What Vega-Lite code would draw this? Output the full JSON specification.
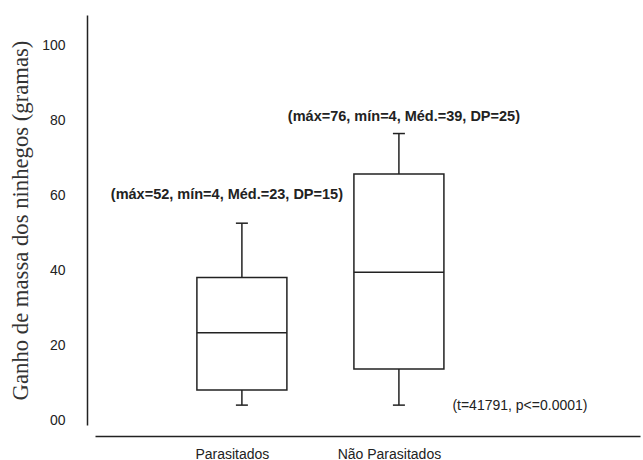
{
  "$schema": "https://vega.github.io/schema/vega-lite/v6.json",
  "width": 545,
  "height": 410,
  "autosize": {"type": "none"},
  "padding": {"left": 95, "top": 15, "right": 3, "bottom": 35},
  "background": "white",
  "config": {"view": {"stroke": null}, "font": "Liberation Sans"},
  "data": {"values": [
    {"grupo": "Parasitados", "min": 4, "q1": 8, "med": 23.3, "q3": 38, "max": 52.5, "label": "(máx=52, mín=4, Méd.=23, DP=15)", "labelY": 60},
    {"grupo": "Não Parasitados", "min": 4, "q1": 13.6, "med": 39.4, "q3": 65.6, "max": 76.4, "label": "(máx=76, mín=4, Méd.=39, DP=25)", "labelY": 80.8}
  ]},
  "encoding": {
    "x": {"field": "grupo", "type": "nominal", "sort": null,
      "scale": {"type": "point", "domain": ["Parasitados", "Não Parasitados", "_"], "padding": 0.7355, "align": 0.636},
      "axis": {"title": null, "domainColor": "#222", "domainWidth": 1.5, "ticks": false, "labelAngle": 0, "labelFontSize": 14, "labelColor": "#222", "labelPadding": 11, "offset": 11, "labelOffset": -10,
        "labelExpr": "datum.value == '_' ? '' : datum.label"}}
  },
  "layer": [
    {"mark": {"type": "rule", "color": "#222", "strokeWidth": 1.5},
     "encoding": {
       "y": {"field": "min", "type": "quantitative",
         "scale": {"domain": [-1.3, 108], "nice": false, "zero": false},
         "axis": {"title": "Ganho de massa dos ninhegos (gramas)", "titleFont": "Liberation Serif", "titleFontWeight": "normal", "titleFontSize": 22.7, "titleColor": "#333", "titlePadding": 9,
           "values": [0, 20, 40, 60, 80, 100], "labelExpr": "datum.value == 0 ? '00' : datum.label",
           "grid": false, "ticks": false, "domainColor": "#222", "domainWidth": 1.5, "labelFontSize": 14, "labelColor": "#222", "labelPadding": 22, "offset": 8}},
       "y2": {"field": "max"}
     }},
    {"mark": {"type": "bar", "width": 90, "fill": "white", "stroke": "#222", "strokeWidth": 1.5},
     "encoding": {"y": {"field": "q1", "type": "quantitative"}, "y2": {"field": "q3"}}},
    {"mark": {"type": "tick", "orient": "horizontal", "size": 90, "thickness": 1.5, "color": "#222", "opacity": 1},
     "encoding": {"y": {"field": "med", "type": "quantitative"}}},
    {"mark": {"type": "tick", "orient": "horizontal", "size": 12, "thickness": 1.5, "color": "#222", "opacity": 1},
     "encoding": {"y": {"field": "max", "type": "quantitative"}}},
    {"mark": {"type": "tick", "orient": "horizontal", "size": 12, "thickness": 1.5, "color": "#222", "opacity": 1},
     "encoding": {"y": {"field": "min", "type": "quantitative"}}},
    {"transform": [{"filter": "datum.grupo == 'Parasitados'"}],
     "mark": {"type": "text", "fontWeight": "bold", "fontSize": 14.5, "color": "#222", "dx": -15},
     "encoding": {"y": {"field": "labelY", "type": "quantitative"}, "text": {"field": "label"}}},
    {"transform": [{"filter": "datum.grupo == 'Não Parasitados'"}],
     "mark": {"type": "text", "fontWeight": "bold", "fontSize": 14.5, "color": "#222", "dx": 5},
     "encoding": {"y": {"field": "labelY", "type": "quantitative"}, "text": {"field": "label"}}},
    {"transform": [{"filter": "datum.grupo == 'Não Parasitados'"}, {"calculate": "'(t=41791, p<=0.0001)'", "as": "stat"}],
     "mark": {"type": "text", "fontSize": 14, "color": "#222", "dx": 121},
     "encoding": {"y": {"datum": 3.7, "type": "quantitative"}, "text": {"field": "stat"}}}
  ]
}
